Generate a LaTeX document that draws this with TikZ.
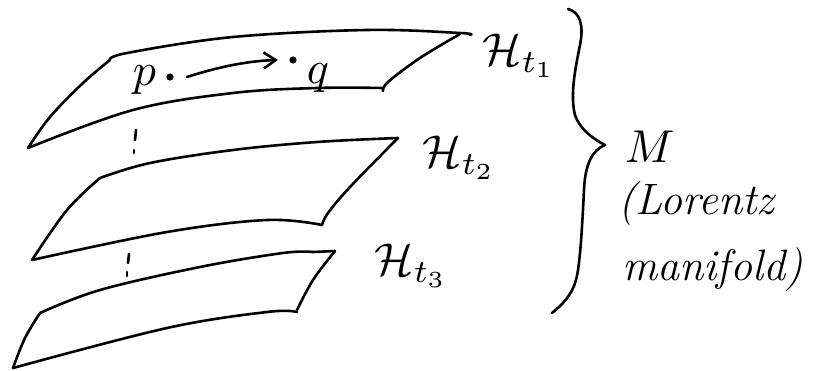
\documentclass[tikz,border=0pt]{standalone}
\usetikzlibrary{arrows.meta}
\begin{document}
\begin{tikzpicture}[x=1pt,y=-1pt,
  ink/.style={line width=2.6pt,line cap=round,line join=round,black},
  big/.style={inner sep=0pt,anchor=base west,scale=4.6},
  txt/.style={inner sep=0pt,anchor=base west,font=\fontsize{44}{50}\selectfont\itshape}]
\useasboundingbox (0,0) rectangle (824,371);
% sheet 1
\draw[ink] plot[smooth,tension=0.6] coordinates{(28,148)(50,117)(83,83)(110,60)};
\draw[ink] plot[smooth,tension=0.6] coordinates{(110,60)(127,53)(233,37)(367,30)(460,33)(470,35)};
\draw[ink] plot[smooth,tension=0.6] coordinates{(460,34)(420,58)(388,82)(383,91)};
\draw[ink] plot[smooth,tension=0.6] coordinates{(383,88)(317,88)(233,93)(133,110)(28,148)};
% sheet 2
\draw[ink] plot[smooth,tension=0.6] coordinates{(100,178)(150,163)(233,150)(317,142)(398,138)};
\draw[ink] plot[smooth,tension=0.6] coordinates{(100,178)(67,210)(32,260)};
\draw[ink] plot[smooth,tension=0.6] coordinates{(398,138)(350,187)(328,213)(322,225)};
\draw[ink] plot[smooth,tension=0.6] coordinates{(322,225)(267,220)(167,232)(32,260)};
% sheet 3
\draw[ink] plot[smooth,tension=0.6] coordinates{(40,313)(100,290)(200,267)(283,253)(313,252)};
\draw[ink] (313,252) -- (335,251);
\draw[ink] plot[smooth,tension=0.6] coordinates{(335,251)(313,280)(297,310)};
\draw[ink] plot[smooth,tension=0.6] coordinates{(297,312)(267,312)(167,328)(13,368)};
\draw[ink] plot[smooth,tension=0.6] coordinates{(40,313)(25,338)(13,368)};
% vertical dots
\draw[ink] (136,130) -- (135,140);
\draw[ink] (134,150) -- (134,153);
\draw[ink] (129,254) -- (128,263);
\draw[ink] (127,272) -- (127,276);
% points and curve
\node[big] (p) at (132,86) {$p$};
\node[big] (q) at (306,84) {$q$};
\fill (170,77) circle (3.6) coordinate (pd);
\fill (293,60) circle (3.6) coordinate (qd);
\coordinate (a0) at (187,77);
\coordinate (a1) at (278,60);
\draw[ink,-{Straight Barb[length=12pt,width=16pt,line width=2.6pt]}] (a0) .. controls (215,68) and (245,61) .. (a1);
% labels
\node[big] (h1) at (482,66) {$\mathcal{H}_{t_1}$};
\node[big] (h2) at (422,168) {$\mathcal{H}_{t_2}$};
\node[big] (h3) at (374,276) {$\mathcal{H}_{t_3}$};
% brace
\draw[ink] (568,9) .. controls (580,12) and (584,25) .. (580,45)
  .. controls (575,70) and (570,95) .. (575,115)
  .. controls (580,130) and (595,140) .. (605,145)
  .. controls (592,150) and (585,165) .. (584,190)
  .. controls (582,230) and (580,265) .. (576,280)
  .. controls (572,295) and (562,305) .. (552,313);
\node[big] (m) at (624,163) {$M$};
\node[txt] (l1) at (618,215) {(Lorentz};
\node[txt] (l2) at (622,280) {manifold)};
\end{tikzpicture}
\end{document}
